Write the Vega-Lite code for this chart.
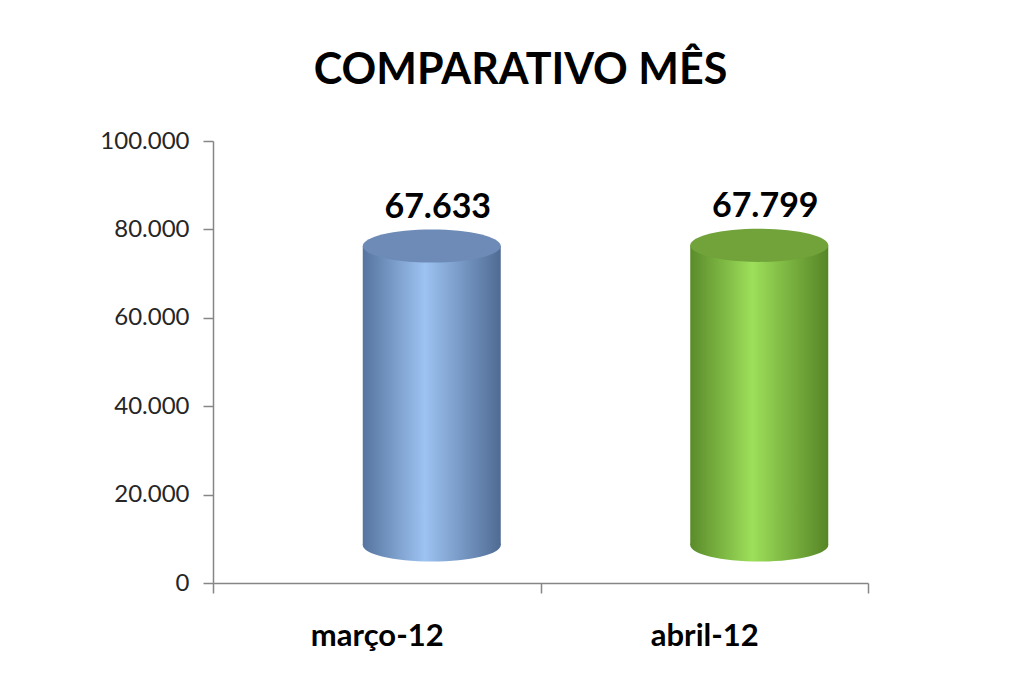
{
  "$schema": "https://vega.github.io/schema/vega-lite/v6.json",
  "width": 655,
  "height": 442,
  "autosize": {"type": "none"},
  "padding": {"left": 213, "top": 141, "right": 160, "bottom": 101},
  "background": "white",
  "config": {
    "locale": {"number": {"decimal": ",", "thousands": ".", "grouping": [3], "currency": ["R$ ", ""]}},
    "view": {"stroke": null},
    "font": "Lato"
  },
  "title": {
    "text": "COMPARATIVO MÊS",
    "font": "Lato",
    "fontSize": 43,
    "fontWeight": "bold",
    "color": "#000000",
    "anchor": "middle",
    "frame": "group",
    "baseline": "alphabetic",
    "offset": 2,
    "dx": -20
  },
  "data": {
    "values": [
      {"mes": "março-12", "valor": 67633},
      {"mes": "abril-12", "valor": 67799}
    ]
  },
  "encoding": {
    "x": {
      "field": "mes",
      "type": "nominal",
      "sort": null,
      "scale": {"paddingInner": 0, "paddingOuter": 0},
      "axis": {
        "title": null,
        "labelAngle": 0,
        "labelFont": "Lato",
        "labelFontSize": 31,
        "labelFontWeight": "bold",
        "labelColor": "#000000",
        "tickBand": "extent",
        "tickSize": 10,
        "labelPadding": 28,
        "domainColor": "#868686",
        "tickColor": "#868686",
        "domainWidth": 1.5,
        "tickWidth": 1.5
      }
    }
  },
  "layer": [
    {
      "mark": {
        "type": "point",
        "shape": "M-1,0A1,0.24,0,1,0,1,0A1,0.24,0,1,0,-1,0Z",
        "size": 19044,
        "filled": true,
        "opacity": 1,
        "strokeWidth": 0,
        "xOffset": 55,
        "yOffset": -38
      },
      "encoding": {
        "y": {"datum": 0, "type": "quantitative"},
        "fill": {
          "condition": {
            "test": "datum.mes === 'março-12'",
            "value": {"gradient": "linear", "x1": 0, "x2": 1, "y1": 0, "y2": 0,
              "stops": [{"offset": 0, "color": "#56749f"}, {"offset": 0.45, "color": "#9dc3f2"}, {"offset": 1, "color": "#4f6b94"}]}
          },
          "value": {"gradient": "linear", "x1": 0, "x2": 1, "y1": 0, "y2": 0,
            "stops": [{"offset": 0, "color": "#5a8b2a"}, {"offset": 0.45, "color": "#9ddf5a"}, {"offset": 1, "color": "#568526"}]}
        }
      }
    },
    {
      "mark": {"type": "bar", "width": 138, "xOffset": 55, "yOffset": -38},
      "encoding": {
        "y": {
          "field": "valor",
          "type": "quantitative",
          "scale": {"domain": [0, 100000]},
          "axis": {
            "title": null,
            "values": [0, 20000, 40000, 60000, 80000, 100000],
            "format": ",d",
            "grid": false,
            "labelFont": "Lato",
            "labelFontSize": 24,
            "labelColor": "#262626",
            "tickSize": 10,
            "labelPadding": 14,
            "domainColor": "#868686",
            "tickColor": "#868686",
            "domainWidth": 1.5,
            "tickWidth": 1.5
          }
        },
        "fill": {
          "condition": {
            "test": "datum.mes === 'março-12'",
            "value": {"gradient": "linear", "x1": 0, "x2": 1, "y1": 0, "y2": 0,
              "stops": [{"offset": 0, "color": "#56749f"}, {"offset": 0.45, "color": "#9dc3f2"}, {"offset": 1, "color": "#4f6b94"}]}
          },
          "value": {"gradient": "linear", "x1": 0, "x2": 1, "y1": 0, "y2": 0,
            "stops": [{"offset": 0, "color": "#5a8b2a"}, {"offset": 0.45, "color": "#9ddf5a"}, {"offset": 1, "color": "#568526"}]}
        }
      }
    },
    {
      "mark": {
        "type": "point",
        "shape": "M-1,0A1,0.24,0,1,0,1,0A1,0.24,0,1,0,-1,0Z",
        "size": 19044,
        "filled": true,
        "opacity": 1,
        "strokeWidth": 0,
        "xOffset": 55,
        "yOffset": -38
      },
      "encoding": {
        "y": {"field": "valor", "type": "quantitative"},
        "fill": {
          "condition": {"test": "datum.mes === 'março-12'", "value": "#6d8bb6"},
          "value": "#71a33a"
        }
      }
    },
    {
      "mark": {
        "type": "text",
        "font": "Lato",
        "fontSize": 34,
        "fontWeight": "bold",
        "color": "#000000",
        "baseline": "alphabetic",
        "xOffset": 61,
        "yOffset": -66
      },
      "encoding": {
        "y": {"field": "valor", "type": "quantitative"},
        "text": {"field": "valor", "type": "quantitative", "format": ",d"}
      }
    }
  ]
}
